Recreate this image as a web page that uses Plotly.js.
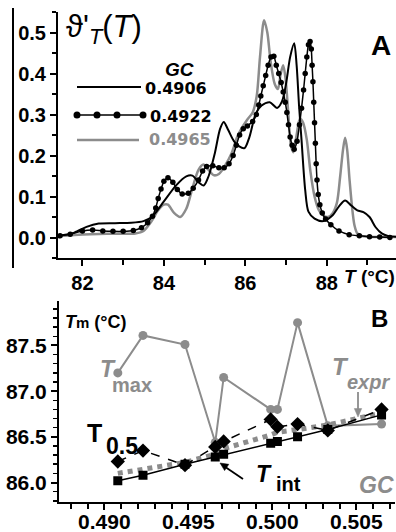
<!DOCTYPE html>
<html><head><meta charset="utf-8">
<script src="https://cdn.plot.ly/plotly-3.0.1.min.js"></script>
<style>html,body{margin:0;padding:0;background:#fff}#g{width:396px;height:532px}</style>
</head><body><div id="g"></div>
<script>
// ---------- Panel A data: differential melting curves ----------
const tA_4906 = [81.4,81.8,82.1,82.4,82.8,83.2,83.5,83.7,84.0,84.3,84.55,84.7,84.85,84.98,85.1,85.25,85.38,85.47,85.58,85.72,85.85,85.98,86.1,86.25,86.4,86.6,86.78,86.9,87.0,87.1,87.2,87.26,87.32,87.38,87.47,87.55,87.7,87.92,88.15,88.3,88.45,88.6,88.75,88.9,89.05,89.2,89.35,89.5,89.7];
const yA_4906 = [0.004,0.012,0.026,0.034,0.035,0.036,0.040,0.050,0.088,0.127,0.149,0.151,0.135,0.127,0.150,0.205,0.265,0.282,0.262,0.235,0.222,0.218,0.245,0.300,0.322,0.330,0.316,0.332,0.375,0.440,0.474,0.420,0.320,0.238,0.116,0.063,0.046,0.040,0.055,0.076,0.090,0.078,0.066,0.062,0.050,0.025,0.010,0.004,0.002];

const tA_4922 = [81.45,81.7,82.0,82.25,82.5,82.75,83.0,83.25,83.45,83.6,83.72,83.8,83.86,83.93,84.0,84.1,84.22,84.33,84.45,84.6,84.72,84.85,84.95,85.05,85.2,85.35,85.48,85.6,85.7,85.78,85.86,85.95,86.05,86.18,86.27,86.33,86.38,86.44,86.5,86.56,86.63,86.7,86.76,86.82,86.88,86.93,86.98,87.02,87.06,87.1,87.15,87.2,87.27,87.33,87.38,87.43,87.47,87.51,87.55,87.59,87.62,87.64,87.66,87.68,87.7,87.72,87.74,87.76,87.79,87.83,87.89,87.97,88.1,88.3,88.55,88.8,89.05,89.3,89.55];
const yA_4922 = [0.004,0.008,0.016,0.018,0.016,0.015,0.015,0.017,0.024,0.036,0.052,0.072,0.095,0.118,0.137,0.146,0.135,0.117,0.106,0.108,0.120,0.140,0.162,0.173,0.175,0.170,0.170,0.180,0.200,0.225,0.250,0.265,0.272,0.283,0.300,0.323,0.345,0.370,0.395,0.420,0.440,0.442,0.420,0.400,0.378,0.355,0.330,0.305,0.275,0.245,0.225,0.215,0.235,0.275,0.315,0.360,0.400,0.440,0.470,0.478,0.460,0.420,0.380,0.330,0.280,0.230,0.180,0.140,0.105,0.080,0.060,0.045,0.031,0.016,0.007,0.004,0.002,0.001,0.000];

const tA_4965 = [81.4,81.8,82.2,82.6,83.0,83.3,83.5,83.7,83.85,84.0,84.1,84.25,84.4,84.55,84.7,84.85,84.97,85.1,85.22,85.35,85.5,85.66,85.8,85.9,86.05,86.18,86.28,86.36,86.46,86.54,86.62,86.72,86.8,86.87,86.93,86.99,87.05,87.12,87.18,87.26,87.34,87.42,87.51,87.6,87.7,87.8,87.9,88.03,88.15,88.25,88.33,88.4,88.45,88.5,88.56,88.62,88.68,88.75,88.85,89.0,89.3,89.7];
const yA_4965 = [0.003,0.006,0.008,0.009,0.009,0.010,0.016,0.040,0.065,0.080,0.080,0.060,0.050,0.070,0.120,0.165,0.178,0.165,0.152,0.155,0.175,0.205,0.245,0.265,0.288,0.305,0.345,0.440,0.530,0.500,0.430,0.375,0.362,0.400,0.420,0.385,0.310,0.225,0.208,0.250,0.290,0.280,0.238,0.160,0.100,0.068,0.055,0.050,0.060,0.085,0.150,0.215,0.243,0.215,0.140,0.075,0.030,0.010,0.004,0.002,0.001,0.001];

const legendGC = ['0.4906','0.4922','0.4965'];

// ---------- Panel B data ----------
const gc    = [0.4908,0.4923,0.4948,0.4966,0.4971,0.4999,0.5003,0.5015,0.5033,0.5065];
const tMax  = [87.20,87.61,87.51,86.44,87.15,86.80,86.80,87.75,86.62,86.64];
const t05   = [86.23,86.35,86.19,86.39,86.45,86.69,86.61,86.64,86.57,86.80];
const tInt  = [86.02,86.08,86.20,86.28,86.31,86.43,86.45,86.50,86.58,86.74];
const tExpr = [86.10,86.15,86.22,86.31,86.37,86.52,86.55,86.58,86.63,86.76];

const GRAY = '#8c8c8c';
const W = 396, H = 532;
const X = px => px / W, Y = py => 1 - py / H;
const TF = {family:'Liberation Sans, Arial, sans-serif', size:20, color:'#000', weight:'bold'};

const traces = [
  {x:tA_4965, y:yA_4965, mode:'lines', line:{color:GRAY, width:2.5, shape:'spline', smoothing:0.8}, xaxis:'x', yaxis:'y'},
  {x:tA_4906, y:yA_4906, mode:'lines', line:{color:'#000', width:2, shape:'spline', smoothing:0.8}, xaxis:'x', yaxis:'y'},
  {x:tA_4922, y:yA_4922, mode:'lines+markers', line:{color:'#000', width:1.5, shape:'spline', smoothing:0.6}, marker:{color:'#000', size:5.5}, xaxis:'x', yaxis:'y'},
  {x:gc, y:tExpr, mode:'lines', line:{color:GRAY, width:5, dash:'dot'}, xaxis:'x2', yaxis:'y2'},
  {x:gc, y:tMax, mode:'lines+markers', line:{color:GRAY, width:2}, marker:{color:GRAY, size:9, symbol:'circle'}, xaxis:'x2', yaxis:'y2'},
  {x:gc, y:tInt, mode:'lines+markers', line:{color:'#000', width:1.5}, marker:{color:'#000', size:9, symbol:'square'}, xaxis:'x2', yaxis:'y2'},
  {x:gc, y:t05, mode:'lines+markers', line:{color:'#000', width:1.5, dash:'dash'}, marker:{color:'#000', size:11, symbol:'diamond'}, xaxis:'x2', yaxis:'y2'}
];

const axBase = {showline:true, linecolor:'#000', linewidth:2, showgrid:false, zeroline:false, ticks:'outside', ticklen:6, tickwidth:2, tickcolor:'#000', tickfont:TF};

const legendY = [88, 116, 140];
const legendCol = ['#000','#000',GRAY];
const P = (px, py) => X(px) + ',' + Y(py);
const shapes = [
  {type:'line', xref:'paper', yref:'paper', x0:X(13), x1:X(13), y0:Y(8), y1:Y(268), line:{color:'#000', width:2}},
  {type:'line', xref:'paper', yref:'paper', x0:X(77), x1:X(141), y0:Y(87), y1:Y(87), line:{color:'#000', width:2}},
  {type:'line', xref:'paper', yref:'paper', x0:X(77), x1:X(143), y0:Y(115), y1:Y(115), line:{color:'#000', width:1.5}},
  {type:'line', xref:'paper', yref:'paper', x0:X(77), x1:X(139), y0:Y(140), y1:Y(140), line:{color:GRAY, width:2.5}},
  // arrow to T_int
  {type:'line', xref:'paper', yref:'paper', x0:X(243), y0:Y(479), x1:X(226), y1:Y(467.5), line:{color:'#000', width:1.8}},
  {type:'path', xref:'paper', yref:'paper', path:'M'+P(220,463)+'L'+P(228.8,464.3)+'L'+P(224.6,470.6)+'Z', fillcolor:'#000', line:{color:'#000', width:0.5}},
  // arrow to T_expr
  {type:'line', xref:'paper', yref:'paper', x0:X(358), y0:Y(392), x1:X(358), y1:Y(410), line:{color:GRAY, width:1.8}},
  {type:'path', xref:'paper', yref:'paper', path:'M'+P(358,417)+'L'+P(354.3,408.5)+'L'+P(361.7,408.5)+'Z', fillcolor:GRAY, line:{color:GRAY, width:0.5}}
];
[77,97,117,143].forEach(cx => shapes.push({type:'circle', xref:'paper', yref:'paper', x0:X(cx-3.5), x1:X(cx+3.5), y0:Y(115+3.5), y1:Y(115-3.5), fillcolor:'#000', line:{color:'#000', width:0}}));

function ann(text, px, py, size, color, xanchor, fam) {
  return {text, x:X(px), y:Y(py), xref:'paper', yref:'paper', showarrow:false, xanchor:xanchor||'center', yanchor:'middle',
          font:{family: fam || 'Liberation Sans, Arial, sans-serif', size, color:color||'#000'}};
}
const annotations = [
  ann("ϑ'<sub><i>T</i></sub>(<i>T</i>)", 64, 29, 31, '#000', 'left'),
  ann('<b>A</b>', 381, 45, 28),
  ann('<b><i>GC</i></b>', 179, 69, 19),
  ann('<b>'+legendGC[0]+'</b>', 143, legendY[0], 16, legendCol[0], 'left', 'DejaVu Sans, sans-serif'),
  ann('<b>'+legendGC[1]+'</b>', 148, legendY[1], 16, legendCol[1], 'left', 'DejaVu Sans, sans-serif'),
  ann('<b>'+legendGC[2]+'</b>', 147, legendY[2], 16, legendCol[2], 'left', 'DejaVu Sans, sans-serif'),
  ann('<b><i>T</i> (°C)</b>', 342, 276, 19, '#000', 'left'),
  ann("<b><i>T</i><span style='font-size:15px'>m</span> (°C)</b>", 63, 322, 18, '#000', 'left'),
  ann('<b>B</b>', 379, 318, 24),
  ann('<b><i>T</i></b>', 108, 369, 23, GRAY),
  ann('<b>max</b>', 132, 385, 20, GRAY),
  ann('<b><i>T</i></b>', 340, 366, 24, GRAY),
  ann('<b><i>expr</i></b>', 368, 382, 20, GRAY),
  ann('<b>T</b>', 94, 433, 25),
  ann('<b>0.5</b>', 122, 446, 23),
  ann('<b><i>T</i></b>', 264, 474, 23),
  ann('<b>int</b>', 288, 484, 20),
  ann('<b><i>GC</i></b>', 376, 485, 23, GRAY)
];

const layout = {
  width:W, height:H, margin:{l:0, r:0, t:0, b:0}, showlegend:false,
  paper_bgcolor:'#fff', plot_bgcolor:'rgba(0,0,0,0)',
  xaxis: Object.assign({}, axBase, {domain:[X(58), 1], range:[81.4, 89.7], tick0:82, dtick:2, anchor:'y',
          minor:{dtick:1, ticklen:5, tickwidth:2, tickcolor:'#000', ticks:'outside'}}),
  yaxis: Object.assign({}, axBase, {domain:[Y(258), Y(12)], range:[-0.05, 0.55], tick0:0, dtick:0.1, tickformat:'.1f', anchor:'x',
          minor:{dtick:0.05, ticklen:4, tickwidth:2, tickcolor:'#000', ticks:'outside'}}),
  xaxis2: Object.assign({}, axBase, {domain:[X(59), X(395)], range:[0.4873, 0.5073], tick0:0.49, dtick:0.005, tickformat:'.3f', anchor:'y2',
          tickfont:Object.assign({}, TF, {size:21}), ticklabelstandoff:-6,
          minor:{dtick:0.001, ticklen:5, tickwidth:2, tickcolor:'#000', ticks:'outside'}}),
  yaxis2: Object.assign({}, axBase, {domain:[Y(501.7), Y(300.7)], range:[85.79, 87.99], tick0:86, dtick:0.5, tickformat:'.1f', anchor:'x2',
          tickfont:Object.assign({}, TF, {size:21}),
          minor:{dtick:0.1, ticklen:4, tickwidth:1.5, tickcolor:'#000', ticks:'outside'}}),
  shapes, annotations
};
Plotly.newPlot('g', traces, layout, {staticPlot:true});
</script></body></html>
